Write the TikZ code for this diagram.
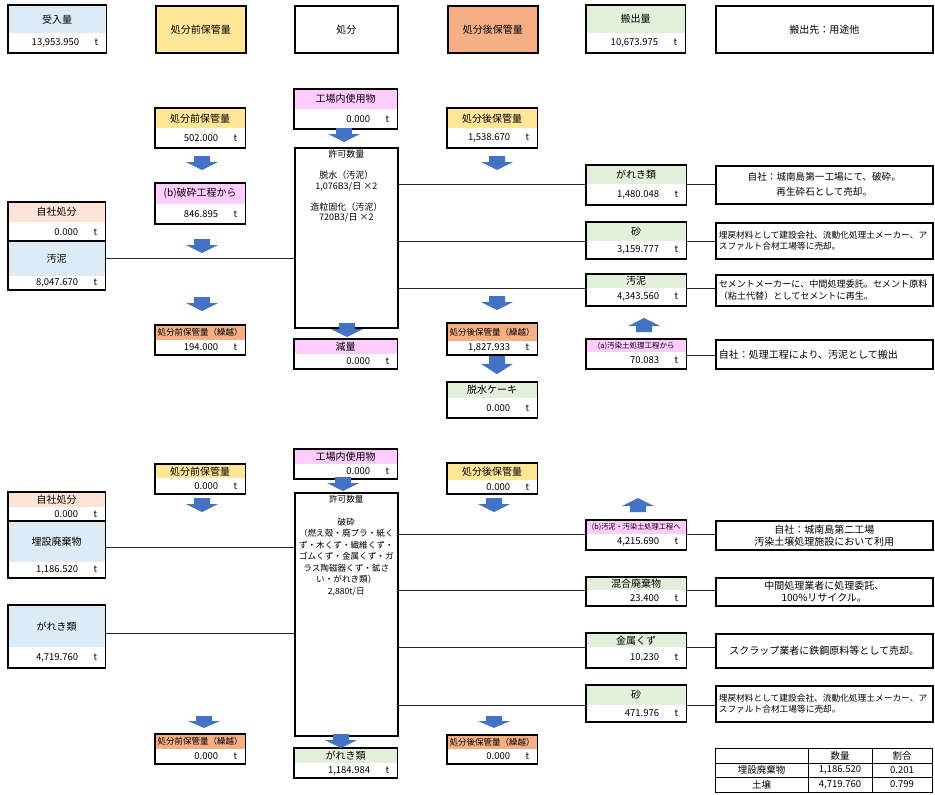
\documentclass[tikz,border=0pt]{standalone}
\usepackage{fontspec}
\setmainfont{Noto Sans CJK JP}
\definecolor{cBlue}{HTML}{DDEBF7}
\definecolor{cYellow}{HTML}{FFE699}
\definecolor{cOrange}{HTML}{F4B084}
\definecolor{cPink}{HTML}{FFCCFF}
\definecolor{cGreen}{HTML}{E2EFDA}
\definecolor{cPeach}{HTML}{FCE4D6}
\definecolor{cArrow}{HTML}{4472C4}
\newcommand{\fsz}[1]{\fontsize{#1}{#1}\selectfont}
% name, x, y, width, header height, value height, colour, header, value
\newcommand{\recbox}[9]{%
  \node[hd, fill=#7, minimum width=#4, minimum height=#5] (#1) at (#2,#3) {#8};
  \node[vl, minimum width=#4, minimum height=#6] (#1v) at (#1.south west) {\makebox[#4pt][r]{#9\makebox[27pt][r]{t\hspace{8pt}}}};
  \draw[frame] (#1.north west) rectangle (#1v.south east);
}
\tikzset{
  hd/.style={anchor=north west, inner sep=0pt, font=\fsz{10}},
  vl/.style={anchor=north west, inner sep=0pt, fill=white, font=\fsz{9.5}},
  frame/.style={line width=1.6pt},
  box/.style={draw, line width=1.6pt, anchor=north west, inner sep=0pt, font=\fsz{10}},
  desc/.style={draw, line width=1.6pt, anchor=north west, inner sep=3pt, minimum width=217},
  conn/.style={line width=0.8pt, black!85},
  tbl/.style={line width=0.6pt},
  tcell/.style={inner sep=0pt, font=\fsz{9.5}},
  dnarrow/.pic={\fill[cArrow] (-8,0) -- (8,0) -- (8,6) -- (16,6) -- (0,14) -- (-16,6) -- (-8,6) -- cycle;},
  uparrow/.pic={\fill[cArrow] (-8,14) -- (8,14) -- (8,8) -- (16,8) -- (0,0) -- (-16,8) -- (-8,8) -- cycle;},
}
\begin{document}
\begin{tikzpicture}[x=1pt, y=-1pt]
\fill[white, use as bounding box] (0,0) rectangle (935,795);
% header row
\recbox{uke}{8}{5}{98}{28}{19}{cBlue}{受入量}{13,953.950}
\node[box, fill=cYellow, minimum width=90, minimum height=47] (hdmae) at (155,5) {処分前保管量};
\node[box, minimum width=103, minimum height=47] (hdshobun) at (294,5) {処分};
\node[box, fill=cOrange, minimum width=90, minimum height=47] (hdato) at (447,5) {処分後保管量};
\recbox{hanshutsu}{586}{5}{99}{28}{19}{cGreen}{搬出量}{10,673.975}
\node[box, minimum width=217, minimum height=47] (hdsaki) at (715,5) {搬出先：用途他};

% upper section
\recbox{nai1}{294}{89}{103}{20}{19}{cPink}{工場内使用物}{0.000}
\node[box, minimum width=103, minimum height=180] (kyoka1) at (294,147) {};
\node[font=\fontsize{9}{10.5}\selectfont, align=center, anchor=north, inner sep=3pt] (kyoka1t) at (kyoka1.north) {許可数量\\[10.5pt]脱水（汚泥）\\1,076B3/日 ×2\\[10.5pt]造粒固化（汚泥）\\720B3/日 ×2};
\recbox{mae1}{155}{108}{90}{20}{19}{cYellow}{処分前保管量}{502.000}
\recbox{hasai1}{155}{183}{90}{21}{19}{cPink}{(b)破砕工程から}{846.895}
\recbox{maek1}{155}{325}{90}{15}{14}{cOrange}{\fsz{8.5}処分前保管量（繰越）}{194.000}
\recbox{jisha1}{8}{202}{97}{20}{19}{cPeach}{自社処分}{0.000}
\recbox{odei1}{8}{241}{97}{35}{13}{cBlue}{汚泥}{8,047.670}
\recbox{ato1}{447}{108}{90}{20}{19}{cYellow}{処分後保管量}{1,538.670}
\recbox{atok1}{447}{323}{90}{18}{13}{cOrange}{\fsz{8.5}処分後保管量（繰越）}{1,827.933}
\recbox{cake1}{447}{382}{90}{16}{19}{cGreen}{脱水ケーキ}{0.000}
\recbox{genryo1}{294}{339}{103}{15}{14}{cPink}{減量}{0.000}
\recbox{gare1}{586}{165}{100}{19}{20}{cGreen}{がれき類}{1,480.048}
\recbox{suna1}{586}{222}{100}{19}{17}{cGreen}{砂}{3,159.777}
\recbox{odei2}{586}{274}{100}{14}{17}{cGreen}{汚泥}{4,343.560}
\recbox{osen1}{586}{339}{100}{13}{16}{cPink}{\fsz{7.5}(a)汚染土処理工程から}{70.083}
\node[desc, minimum height=38, align=center, font=\fontsize{9.6}{15}\selectfont] (d1) at (715,165) {自社：城南島第一工場にて、破砕。\\再生砕石として売却。};
\node[desc, minimum height=36, text width=211, align=left, font=\fontsize{8.7}{11.5}\selectfont] (d2) at (715,222) {埋戻材料として建設会社、流動化処理土メーカー、ア\\スファルト合材工場等に売却。};
\node[desc, minimum height=31, text width=211, align=left, font=\fontsize{9.1}{12}\selectfont] (d3) at (715,274) {セメントメーカーに、中間処理委託。セメント原料\\（粘土代替）としてセメントに再生。};
\node[desc, minimum height=29, text width=211, align=left, font=\fsz{10}] (d4) at (715,339) {自社：処理工程により、汚泥として搬出};

% lower section
\recbox{nai2}{294}{449}{103}{15}{14}{cPink}{工場内使用物}{0.000}
\node[box, minimum width=103, minimum height=243] (kyoka2) at (294,492) {};
\node[font=\fontsize{8.6}{11.5}\selectfont, align=center, anchor=north, inner sep=3pt] (kyoka2t) at (kyoka2.north) {許可数量\\[11.5pt]破砕\\（燃え殻・廃プラ・紙く\\ず・木くず・繊維くず・\\ゴムくず・金属くず・ガ\\ラス陶磁器くず・鉱さ\\い・がれき類）\\2,880t/日};
\recbox{mae2}{155}{464}{90}{14}{15}{cYellow}{処分前保管量}{0.000}
\recbox{maek2}{155}{734}{90}{15}{14}{cOrange}{\fsz{8.5}処分前保管量（繰越）}{0.000}
\recbox{jisha2}{8}{492}{97}{15}{14}{cPeach}{自社処分}{0.000}
\recbox{maisetsu}{8}{521}{97}{41}{15}{cBlue}{埋設廃棄物}{1,186.520}
\recbox{gare2}{8}{605}{97}{42}{20}{cBlue}{がれき類}{4,719.760}
\recbox{ato2}{447}{463}{90}{17}{13}{cYellow}{処分後保管量}{0.000}
\recbox{atok2}{447}{735}{90}{14}{14}{cOrange}{\fsz{8.5}処分後保管量（繰越）}{0.000}
\recbox{gare3}{294}{748}{103}{15}{14}{cGreen}{がれき類}{1,184.984}
\recbox{osen2}{586}{520}{100}{14}{15}{cPink}{\fsz{7.2}(b)汚泥・汚染土処理工程へ}{4,215.690}
\recbox{kongo}{586}{577}{100}{13}{15}{cGreen}{混合廃棄物}{23.400}
\recbox{kinzoku}{586}{633}{100}{14}{20}{cGreen}{金属くず}{10.230}
\recbox{suna2}{586}{685}{100}{20}{16}{cGreen}{砂}{471.976}
\node[desc, minimum height=29, align=center, font=\fontsize{10}{12}\selectfont] (d5) at (715,520) {自社：城南島第二工場\\汚染土壌処理施設において利用};
\node[desc, minimum height=28, align=center, font=\fontsize{10}{12.5}\selectfont] (d6) at (715,577) {中間処理業者に処理委託、\\100\%リサイクル。};
\node[desc, minimum height=34, align=center, font=\fsz{10}] (d7) at (715,633) {スクラップ業者に鉄鋼原料等として売却。};
\node[desc, minimum height=36, text width=211, align=left, font=\fontsize{8.7}{11.5}\selectfont] (d8) at (715,685) {埋戻材料として建設会社、流動化処理土メーカー、ア\\スファルト合材工場等に売却。};

% connectors
\draw[conn] (odei1.east) -- (odei1.east -| kyoka1.west);
\draw[conn] (kyoka1.east |- gare1.south) -- (gare1.south west);
\draw[conn] (gare1.south east) -- (gare1.south east -| d1.west);
\draw[conn] (kyoka1.east |- suna1.south) -- (suna1.south west);
\draw[conn] (suna1.south east) -- (suna1.south east -| d2.west);
\draw[conn] (kyoka1.east |- odei2.south) -- (odei2.south west);
\draw[conn] (odei2.south east) -- (odei2.south east -| d3.west);
\draw[conn] ([yshift=-3pt]osen1.south east) -- ([yshift=-3pt]osen1.south east -| d4.west);
\coordinate (m1) at ([yshift=-6pt]maisetsu.east);
\coordinate (m2) at ([yshift=-7pt]gare2.east);
\draw[conn] (m1) -- (m1 -| kyoka2.west);
\draw[conn] (m2) -- (m2 -| kyoka2.west);
\draw[conn] (kyoka2.east |- osen2.south) -- (osen2.south west);
\draw[conn] (osen2.south east) -- (osen2.south east -| d5.west);
\draw[conn] (kyoka2.east |- kongo.south) -- (kongo.south west);
\draw[conn] (kongo.south east) -- (kongo.south east -| d6.west);
\draw[conn] (kyoka2.east |- kinzoku.south) -- (kinzoku.south west);
\draw[conn] (kinzoku.south east) -- (kinzoku.south east -| d7.west);
\draw[conn] (kyoka2.east |- suna2.south) -- (suna2.south west);
\draw[conn] (suna2.south east) -- (suna2.south east -| d8.west);

% block arrows
\pic at (344,128) {dnarrow};
\pic at (202,156) {dnarrow};
\pic at (202,239) {dnarrow};
\pic at (202,297) {dnarrow};
\pic at (497,156) {dnarrow};
\pic at (497,296) {dnarrow};
\pic[yscale=1.3] at (497,356) {dnarrow};
\pic at (644,318) {uparrow};
\pic at (347,323) {dnarrow};
\pic at (343,477) {dnarrow};
\pic at (202,498) {dnarrow};
\pic[yscale=0.85] at (204,716) {dnarrow};
\pic at (494,498) {dnarrow};
\pic[yscale=0.85] at (494,716) {dnarrow};
\pic at (638,498) {uparrow};
\pic at (341,734) {dnarrow};

% ratio table
\draw[tbl] (715,748) rectangle (932,792);
\draw[tbl] (715,763) -- (932,763) (715,777) -- (932,777) (808,748) -- (808,792) (872,748) -- (872,792);
\node[tcell] (t12) at (840,755.5) {数量};
\node[tcell] (t13) at (902,755.5) {割合};
\node[tcell] (t21) at (761.5,770) {埋設廃棄物};
\node[tcell] (t22) at (840,770) {1,186.520};
\node[tcell] (t23) at (902,770) {0.201};
\node[tcell] (t31) at (761.5,784.5) {土壌};
\node[tcell] (t32) at (840,784.5) {4,719.760};
\node[tcell] (t33) at (902,784.5) {0.799};
\end{tikzpicture}
\end{document}
